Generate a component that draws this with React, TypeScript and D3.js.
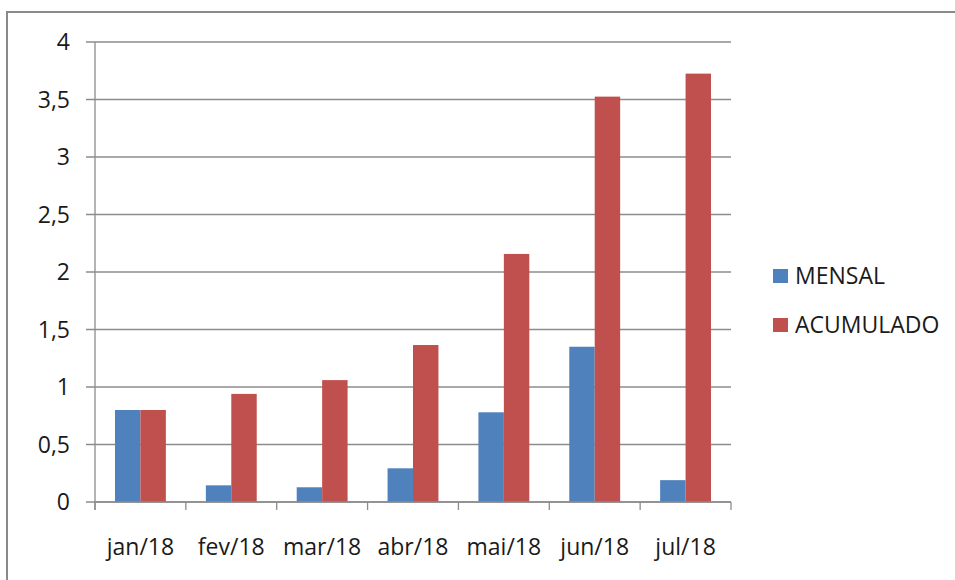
import * as d3 from "d3";
import React, { useEffect, useRef } from "react";

const categories = ["jan/18", "fev/18", "mar/18", "abr/18", "mai/18", "jun/18", "jul/18"];
const mensal = [0.8, 0.145, 0.128, 0.293, 0.78, 1.35, 0.19];
const acumulado = [0.8, 0.94, 1.06, 1.365, 2.157, 3.525, 3.725];
const yTicks = [0, 0.5, 1, 1.5, 2, 2.5, 3, 3.5, 4];
const seriesNames = ["MENSAL", "ACUMULADO"];
const colors = ["#4F81BD", "#C0504D"];

export default function App() {
  const ref = useRef<SVGSVGElement>(null);

  useEffect(() => {
    const width = 955;
    const height = 580;
    const left = 95;
    const right = 731;
    const top = 42;
    const bottom = 502;
    const font = "'Open Sans', sans-serif";
    const fontSize = 23;

    const svg = d3.select(ref.current);
    svg.selectAll("*").remove();

    svg.append("rect").attr("width", width).attr("height", height).attr("fill", "#fff");

    // outer frame
    svg
      .append("rect")
      .attr("x", 7)
      .attr("y", 12)
      .attr("width", width + 20)
      .attr("height", height + 20)
      .attr("fill", "none")
      .attr("stroke", "#8a8a8a")
      .attr("stroke-width", 2);

    const x0 = d3.scaleBand().domain(categories).range([left, right]).paddingInner(0.44).paddingOuter(0.22);
    const x1 = d3.scaleBand().domain(seriesNames).range([0, x0.bandwidth()]);
    const y = d3.scaleLinear().domain([0, 4]).range([bottom, top]);

    // gridlines + y ticks
    const g = svg.append("g");
    g.selectAll("line.grid")
      .data(yTicks)
      .join("line")
      .attr("x1", left - 9)
      .attr("x2", right)
      .attr("y1", (d) => y(d))
      .attr("y2", (d) => y(d))
      .attr("stroke", "#8c8c8c")
      .attr("stroke-width", 1.3);

    g.selectAll("text.ytick")
      .data(yTicks)
      .join("text")
      .attr("x", 70)
      .attr("y", (d) => y(d))
      .attr("dy", "0.36em")
      .attr("text-anchor", "end")
      .attr("font-family", font)
      .attr("font-size", fontSize)
      .attr("fill", "#1a1a1a")
      .text((d) => d3.format("")(d).replace(".", ","));

    // bars
    const groups = svg
      .append("g")
      .selectAll("g")
      .data(categories)
      .join("g")
      .attr("transform", (d) => `translate(${x0(d)},0)`);

    groups
      .selectAll("rect")
      .data((d, i) => [
        { key: seriesNames[0], value: mensal[i] },
        { key: seriesNames[1], value: acumulado[i] },
      ])
      .join("rect")
      .attr("x", (d) => x1(d.key)!)
      .attr("width", x1.bandwidth())
      .attr("y", (d) => y(d.value))
      .attr("height", (d) => bottom - y(d.value))
      .attr("fill", (d, i) => colors[i]);

    // axes lines
    svg
      .append("line")
      .attr("x1", left)
      .attr("x2", left)
      .attr("y1", top)
      .attr("y2", bottom + 8)
      .attr("stroke", "#8c8c8c")
      .attr("stroke-width", 1.3);
    svg
      .append("line")
      .attr("x1", left)
      .attr("x2", right)
      .attr("y1", bottom)
      .attr("y2", bottom)
      .attr("stroke", "#8c8c8c")
      .attr("stroke-width", 1.3);

    const step = (right - left) / categories.length;
    svg
      .append("g")
      .selectAll("line")
      .data(d3.range(categories.length + 1))
      .join("line")
      .attr("x1", (d) => left + d * step)
      .attr("x2", (d) => left + d * step)
      .attr("y1", bottom)
      .attr("y2", bottom + 8)
      .attr("stroke", "#8c8c8c")
      .attr("stroke-width", 1.3);

    svg
      .append("g")
      .selectAll("text")
      .data(categories)
      .join("text")
      .attr("x", (d) => x0(d)! + x0.bandwidth() / 2)
      .attr("y", 555)
      .attr("text-anchor", "middle")
      .attr("font-family", font)
      .attr("font-size", fontSize)
      .attr("fill", "#1a1a1a")
      .text((d) => d);

    // legend
    const legend = svg
      .append("g")
      .selectAll("g")
      .data(seriesNames)
      .join("g")
      .attr("transform", (d, i) => `translate(773,${276 + i * 49})`);
    legend
      .append("rect")
      .attr("x", 0)
      .attr("y", -7)
      .attr("width", 15)
      .attr("height", 14)
      .attr("fill", (d, i) => colors[i]);
    legend
      .append("text")
      .attr("x", 22)
      .attr("dy", "0.36em")
      .attr("font-family", font)
      .attr("font-size", fontSize)
      .attr("fill", "#1a1a1a")
      .text((d) => d);
  }, []);

  return (
    <svg
      ref={ref}
      width={955}
      height={580}
      style={{ position: "absolute", left: 0, top: 0, display: "block" }}
    />
  );
}
